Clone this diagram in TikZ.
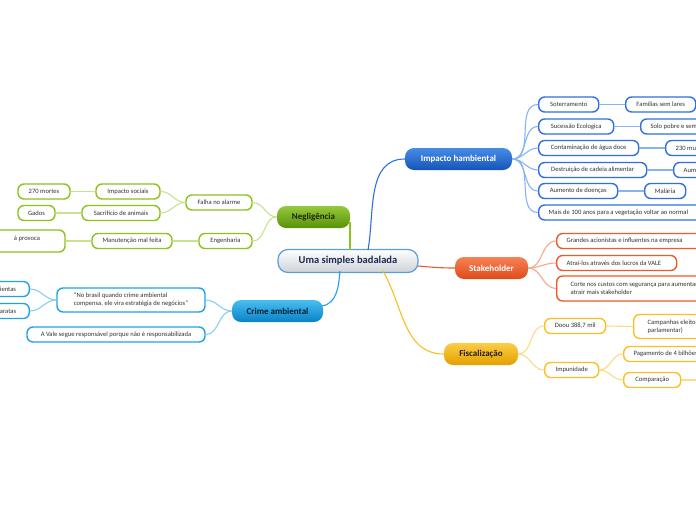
\documentclass[tikz,border=0pt]{standalone}
\usepackage{fontspec}
\setmainfont{Carlito}
\newcommand\lbox[2]{\makebox[#1][l]{\hspace*{10pt}#2}}
\newcommand\lpar[2]{\parbox{#1}{\raggedright\hspace*{0pt}#2}}
\begin{document}
\begin{tikzpicture}[x=1pt,y=-1pt,
  leaf/.style={draw=#1, line width=1.4pt, fill=white, rounded corners=6pt, inner sep=0pt, minimum height=15pt, font=\fontsize{6.6}{7.8}\selectfont, text=black!80},
  main/.style={rounded corners=9pt, inner sep=0pt, minimum height=22pt, font=\bfseries\fontsize{9}{10}\selectfont},
  lk/.style={draw=#1, line width=1.1pt},
]
\definecolor{gB}{HTML}{8DC21F}\definecolor{gL}{HTML}{C8E290}
\definecolor{bB}{HTML}{2F6FE0}\definecolor{bL}{HTML}{86B4EE}
\definecolor{cB}{HTML}{21A2E6}\definecolor{cL}{HTML}{88D0F2}
\definecolor{oB}{HTML}{EF5A2A}\definecolor{oL}{HTML}{F7A98C}
\definecolor{yB}{HTML}{FBBF22}\definecolor{yL}{HTML}{FDDB84}
\useasboundingbox (0,0) rectangle (696,520);
\clip (0,0) rectangle (696,520);
\fill[white] (0,0) rectangle (696,520);

% central
\node[main, draw={rgb,255:red,90;green,160;blue,216}, line width=1.2pt, top color=white, bottom color={rgb,255:red,205;green,210;blue,216}, minimum width=140pt, minimum height=23pt, rounded corners=10pt, font=\bfseries\fontsize{10.5}{12}\selectfont, text={rgb,255:red,30;green,40;blue,80}] (root) at (348,261) {Uma simples badalada};

% main branches
\node[main, top color={rgb,255:red,150;green,200;blue,60}, bottom color={rgb,255:red,88;green,145;blue,8}, minimum width=73pt, text={rgb,255:red,30;green,40;blue,10}] (neg) at (313.5,217) {Negligência};
\node[main, top color={rgb,255:red,70;green,140;blue,230}, bottom color={rgb,255:red,22;green,84;blue,184}, minimum width=107pt, text=white] (imp) at (458.5,159) {Impacto hambiental};
\node[main, top color={rgb,255:red,248;green,128;blue,84}, bottom color={rgb,255:red,222;green,76;blue,26}, minimum width=73pt, text=white] (sta) at (491.5,268) {Stakeholder};
\node[main, top color={rgb,255:red,252;green,205;blue,70}, bottom color={rgb,255:red,226;green,160;blue,0}, minimum width=74pt, text={rgb,255:red,40;green,30;blue,0}] (fis) at (481,354) {Fiscalização};
\node[main, top color={rgb,255:red,72;green,190;blue,240}, bottom color={rgb,255:red,10;green,130;blue,198}, minimum width=91pt, text={rgb,255:red,10;green,30;blue,50}] (cri) at (277.5,311) {Crime ambiental};

% root connectors
\coordinate (rN) at (350,250);
\coordinate (nS) at (350,222);
\coordinate (rB) at (368,250);
\coordinate (rO) at (418,266);
\coordinate (rY) at (383,271);
\coordinate (rC) at (340,271);
\coordinate (cE) at (322,306);
\draw[lk=gB] (rN) -- (nS);
\draw[lk=bB] (rB) to[out=80,in=180] (imp.west);
\draw[lk=oB] (rO) to[out=-5,in=180] (sta.west);
\draw[lk=yB] (rY) to[out=-60,in=180] (fis.west);
\draw[lk=cB] (rC) to[out=-95,in=10] (cE);

% Negligência
\node[leaf=gB, minimum width=66pt] (fal) at (219,202.5) {Falha no alarme};
\node[leaf=gB, minimum width=53pt] (eng) at (225.5,241) {Engenharia};
\node[leaf=gB, minimum width=64pt] (isoc) at (128,191.5) {Impacto sociais};
\node[leaf=gB, minimum width=78pt] (sac) at (121,213) {Sacrifício de animais};
\node[leaf=gB, minimum width=52pt] (mor) at (44,191.5) {270 mortes};
\node[leaf=gB, minimum width=37pt] (gad) at (36.5,213) {Gados};
\node[leaf=gB, minimum width=80pt] (man) at (132,241) {Manutenção mal feita};
\node[leaf=gB, minimum width=100pt, minimum height=22pt, text depth=6pt] (prv) at (15,241) {\hspace*{24pt}á provoca};
\draw[lk=gL] (neg.west) to[out=180,in=0] (fal.east);
\draw[lk=gL] (neg.west) to[out=180,in=0] (eng.east);
\draw[lk=gL] (fal.west) to[out=180,in=0] (isoc.east);
\draw[lk=gL] (fal.west) to[out=180,in=0] (sac.east);
\draw[lk=gL] (isoc.west) -- (mor.east);
\draw[lk=gL] (sac.west) -- (gad.east);
\draw[lk=gL] (eng.west) -- (man.east);
\draw[lk=gL] (man.west) -- (prv.east);

% Crime ambiental
\node[leaf=cB, minimum width=148pt, minimum height=24pt, align=left] (quo) at (131,300) {“No brasil quando crime ambiental\\compensa, ele vira estratégia de negócios”};
\node[leaf=cB, minimum width=178pt] (val) at (116,334.5) {A Vale segue responsável porque não é responsabilizada};
\node[leaf=cB, minimum width=60pt, anchor=east] (bie) at (30,289) {\hspace*{14pt}bientas};
\node[leaf=cB, minimum width=60pt, anchor=east] (bar) at (30,311) {\hspace*{14pt}baratas};
\draw[lk=cL] (cri.west) to[out=180,in=0] (quo.east);
\draw[lk=cL] (cri.west) to[out=180,in=0] (val.east);
\draw[lk=cL] (quo.west) to[out=180,in=0] (bie.east);
\draw[lk=cL] (quo.west) to[out=180,in=0] (bar.east);

% Impacto hambiental
\tikzset{bl/.style={leaf=bB, anchor=west}}
\node[bl, minimum width=60pt] (sot) at (538,104.5) {Soterramento};
\node[bl, minimum width=70pt] (fam) at (625,104.5) {Famílias sem lares};
\node[bl, minimum width=75pt] (suc) at (538,126.5) {Sucessão Ecologica};
\node[bl] (sol) at (640,126.5) {\lbox{100pt}{Solo pobre e sem nutrientes}};
\node[bl, minimum width=100pt] (con) at (538,148) {Contaminação de água doce};
\node[bl] (mu) at (665,148) {\lbox{60pt}{230 mu}};
\node[bl, minimum width=108pt] (des) at (538,170) {Destruição de cadeia alimentar};
\node[bl] (aum) at (673,170) {\lbox{60pt}{Aum}};
\node[bl, minimum width=79pt] (doe) at (538,191) {Aumento de doenças};
\node[bl, minimum width=41pt] (mal) at (644,191) {Malária};
\node[bl] (mai) at (538,212.5) {\lbox{175pt}{Mais de 100 anos para a vegetação voltar ao normal}};
\foreach \c in {sot,suc,con,des,doe,mai}{\draw[lk=bL] (imp.east) to[out=0,in=180] (\c.west);}
\draw[lk=bL] (sot.east) -- (fam.west);
\draw[lk=bL] (suc.east) -- (sol.west);
\draw[lk=bL] (con.east) -- (mu.west);
\draw[lk=bL] (des.east) -- (aum.west);
\draw[lk=bL] (doe.east) -- (mal.west);

% Stakeholder
\tikzset{ol/.style={leaf=oB, anchor=west}}
\node[ol] (gra) at (556,241) {\lbox{160pt}{Grandes acionistas e influentes na empresa}};
\node[ol, minimum width=120pt] (atr) at (556,263) {\lbox{120pt}{Atraí-los através dos lucros da VALE}};
\node[ol, minimum height=25pt] (cor) at (556,288.5) {\hspace*{14pt}\lpar{170pt}{Corte nos custos com segurança para aumentar\\atrair mais stakeholder}};
\foreach \c in {gra,atr,cor}{\draw[lk=oL] (sta.east) to[out=0,in=180] (\c.west);}

% Fiscalização
\tikzset{yl/.style={leaf=yB, anchor=west}}
\node[yl, minimum width=61pt] (doo) at (544,326) {Doou 388,7 mil};
\node[yl, minimum height=24pt] (cam) at (633,326.5) {\hspace*{14pt}\lpar{100pt}{Campanhas eleitorais\\parlamentar)}};
\node[yl, minimum width=54pt] (imn) at (544,370) {Impunidade};
\node[yl] (pag) at (623,354) {\lbox{100pt}{Pagamento de 4 bilhões}};
\node[yl, minimum width=57pt] (com) at (623,380) {Comparação};
\coordinate (far) at (710,380);
\draw[lk=yL] (fis.east) to[out=0,in=180] (doo.west);
\draw[lk=yL] (fis.east) to[out=0,in=180] (imn.west);
\draw[lk=yL] (doo.east) -- (cam.west);
\draw[lk=yL] (imn.east) to[out=0,in=180] (pag.west);
\draw[lk=yL] (imn.east) to[out=0,in=180] (com.west);
\draw[lk=yL] (com.east) -- (far);
\end{tikzpicture}
\end{document}
